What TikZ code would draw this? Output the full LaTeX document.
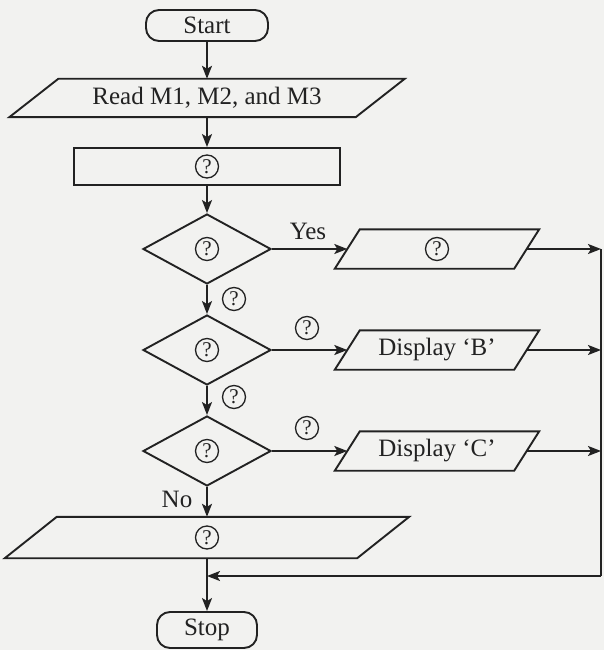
\documentclass[tikz,border=0pt]{standalone}
\usepackage{fontspec}
\setmainfont{Liberation Serif}
\usetikzlibrary{shapes.geometric,arrows.meta,calc}
\definecolor{ink}{HTML}{222222}
\definecolor{bg}{HTML}{F2F2F0}
\newcommand\drawpgram[2]{\draw[ln] ($(#1.north west)+(#2,0)$) -- ($(#1.north east)+(#2,0)$) -- ($(#1.south east)-(#2,0)$) -- ($(#1.south west)-(#2,0)$) -- cycle;}
\begin{document}
\begin{tikzpicture}[x=1pt,y=-1pt,
  ln/.style={line width=1.9pt, draw=ink},
  arr/.style={ln, -{Stealth[length=13pt,width=10pt,inset=3pt]}},
  txt/.style={font=\fontsize{25}{29}\selectfont, text=ink},
  term/.style={txt, draw=ink, line width=1.9pt, rounded corners=13pt, inner sep=0pt},
  proc/.style={draw=ink, line width=1.9pt, inner sep=0pt},
  decide/.style={diamond, draw=ink, line width=1.9pt, inner sep=0pt, minimum width=128pt, minimum height=70pt},
  pbody/.style={txt, inner sep=0pt},
  qm/.style={circle, draw=ink, line width=1.3pt, minimum size=23pt, inner sep=0pt, font=\fontsize{21}{21}\selectfont, text=ink},
]
\path[use as bounding box, fill=bg] (0,0) rectangle (604,650);

% nodes
\node[term, minimum width=122pt, minimum height=31pt] (start) at (207,25.5) {Start};
\node[pbody, minimum width=346pt, minimum height=38pt] (read) at (207,98) {Read M1, M2, and M3};
\node[proc, minimum width=266pt, minimum height=37pt] (box) at (207,166.5) {};
\node[qm] (qbox) at (box) {?};

\node[decide] (d1) at (207,249) {};
\node[qm] (qd1) at (d1) {?};
\node[decide] (d2) at (207,350) {};
\node[qm] (qd2) at (d2) {?};
\node[decide] (d3) at (207,451) {};
\node[qm] (qd3) at (d3) {?};

\node[pbody, minimum width=179pt, minimum height=39pt] (p1) at (437,249) {};
\node[qm] (qp1) at (p1) {?};
\node[pbody, minimum width=179pt, minimum height=39pt] (p2) at (437,350) {Display ‘B’};
\node[pbody, minimum width=179pt, minimum height=39pt] (p3) at (437,451) {Display ‘C’};

\node[pbody, minimum width=352pt, minimum height=41pt] (p4) at (207,537.5) {};
\node[qm] (qp4) at (p4) {?};

\node[term, minimum width=100pt, minimum height=36pt] (stop) at (207,630) {Stop};

% parallelogram outlines
\drawpgram{read}{24.5}
\drawpgram{p1}{12.5}
\drawpgram{p2}{12.5}
\drawpgram{p3}{12.5}
\drawpgram{p4}{26}

% labels
\node[txt] (yes) at (308,231) {Yes};
\node[txt] (no) at (177,499) {No};
\node[qm] (l1) at (234,299) {?};
\node[qm] (l2) at (234,397) {?};
\node[qm] (l3) at (307,328) {?};
\node[qm] (l4) at (307,428) {?};

% rail coordinates
\coordinate (rtop) at (601,249);
\coordinate (rbot) at (601,576);
\coordinate (join) at (207,576);

% connectors
\draw[arr] (start) -- (read);
\draw[arr] (read) -- (box);
\draw[arr] (box) -- (d1);
\draw[arr] (d1) -- (d2);
\draw[arr] (d2) -- (d3);
\draw[arr] (d3) -- (p4);
\draw[arr] (p4) -- (stop);
\draw[arr] (d1.east) -- (p1.west);
\draw[arr] (d2.east) -- (p2.west);
\draw[arr] (d3.east) -- (p3.west);
\draw[arr] (p1.east) -- (p1.east -| rtop);
\draw[arr] (p2.east) -- (p2.east -| rtop);
\draw[arr] (p3.east) -- (p3.east -| rtop);
\draw[ln] (rtop) -- (rbot);
\draw[arr] (rbot) -- (join);
\end{tikzpicture}
\end{document}
